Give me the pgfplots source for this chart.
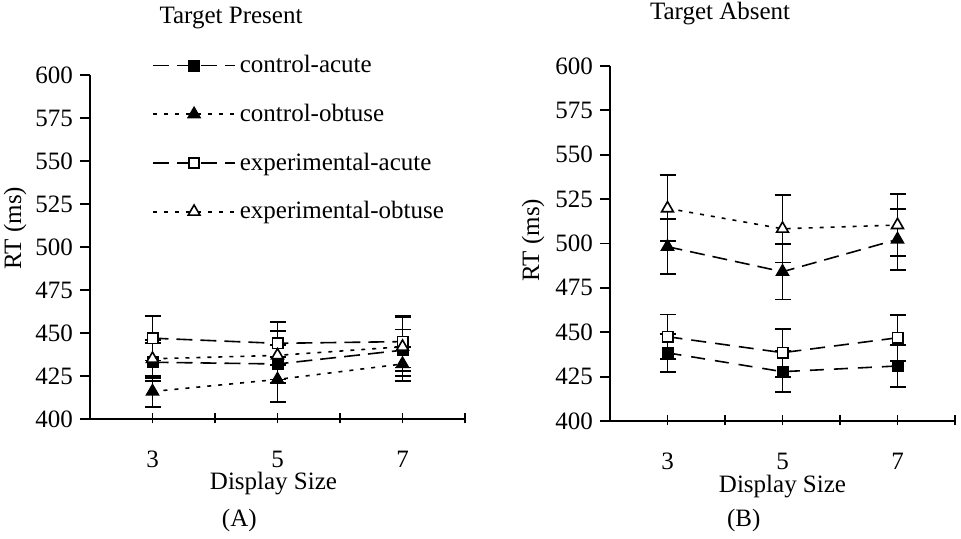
\documentclass[border=0pt]{standalone}
\usepackage{fontspec}
\setmainfont{Liberation Serif}
\usepackage{pgfplots}
\pgfplotsset{compat=1.18}

\pgfplotsset{
  rtaxis/.style={
    scale only axis,
    clip=false,
    axis lines=left,
    axis line style={-, line width=0.9pt},
    xmin=0, xmax=6, ymin=400, ymax=600,
    xtick={1,...,6}, xticklabels={3,,5,,7,},
    ytick={400,425,...,600},
    tick align=outside,
    major tick length=5pt,
    tick style={black, line width=0.9pt},
    x tick style={yshift=2.8pt},
    x tick label style={yshift=-7.5pt},
    font=\fontsize{12.5}{15}\selectfont,
    /pgf/number format/assume math mode=true,
    every axis title shift=0pt,
    ylabel={RT (ms)},
    xlabel={Display Size},
  },
  err/.style={error bars/.cd, y dir=both, y explicit,
    error bar style={solid, line width=0.9pt},
    error mark options={rotate=90, mark size=4pt, line width=0.9pt}},
  sq/.style={black, line width=0.8pt, mark=square*, mark size=2.6pt},
  tri/.style={black, line width=0.8pt, mark=triangle*, mark size=3.4pt},
  longdash/.style={dash pattern=on 8pt off 4pt},
  shortdot/.style={dash pattern=on 2pt off 3.5pt},
  legend image code/.code={
    \draw[mark repeat=2, mark phase=2, #1]
      plot coordinates {(0pt,0pt) (20.5pt,0pt) (41pt,0pt)};},
}

\begin{document}
\begin{tikzpicture}
\useasboundingbox (0,0) rectangle (480.5pt,269pt);

% (A) target present
\begin{axis}[
  rtaxis,
  at={(45pt,59.5pt)}, anchor=south west,
  width=187.5pt, height=172pt,
  title={Target Present},
  title style={at={(axis description cs:0.376,1.166)}, anchor=center},
  xlabel style={at={(axis description cs:0.5,0)}, anchor=center, yshift=-32.5pt, xshift=-2pt},
  ylabel style={at={(axis description cs:0,0.555)}, anchor=center, yshift=37.5pt},
  legend style={draw=none, fill=none, at={(axis description cs:0.165,1.07)},
    anchor=north west, row sep=10.2pt, inner sep=0pt,
    font=\fontsize{12.5}{15}\selectfont},
  legend cell align=left,
]
\addplot[sq, longdash, mark options={solid, fill=black}, err] coordinates {
  (1,433) +- (0,11)
  (3,432) +- (0,11)
  (5,440) +- (0,12)
};
\addlegendentry{control-acute}
\addplot[tri, shortdot, mark options={solid, fill=black}, err] coordinates {
  (1,416) +- (0,9)
  (3,423) +- (0,13)
  (5,432) +- (0,10)
};
\addlegendentry{control-obtuse}
\addplot[sq, longdash, mark options={solid, fill=white}, err] coordinates {
  (1,447) +- (0,13)
  (3,444) +- (0,12.5)
  (5,445) +- (0,15)
};
\addlegendentry{experimental-acute}
\addplot[tri, shortdot, mark options={solid, fill=white}, err] coordinates {
  (1,435) +- (0,11)
  (3,437) +- (0,14)
  (5,442) +- (0,17)
};
\addlegendentry{experimental-obtuse}
\node[anchor=west] at (axis description cs:0.333,-0.294) {(A)};
\end{axis}

% (B) target absent
\begin{axis}[
  rtaxis,
  at={(305pt,58.5pt)}, anchor=south west,
  width=172.5pt, height=177.5pt,
  title={Target Absent},
  title style={at={(axis description cs:0.319,1.149)}, anchor=center},
  xlabel style={at={(axis description cs:0.5,0)}, anchor=center, yshift=-33pt},
  ylabel style={at={(axis description cs:0,0.51)}, anchor=center, yshift=38.5pt},
]
\addplot[sq, dash pattern=on 7pt off 5pt, mark options={solid, fill=black}, err] coordinates {
  (1,438.4) +- (0,10.6)
  (3,427.8) +- (0,11.6)
  (5,431) +- (0,12)
};
\addplot[tri, dash pattern=on 7.5pt off 4pt, mark options={solid, fill=black}, err] coordinates {
  (1,498.2) +- (0,15.5)
  (3,484.1) +- (0,15.6)
  (5,502.3) +- (0,17.3)
};
\addplot[sq, dash pattern=on 7.5pt off 4.5pt, mark options={solid, fill=white}, err] coordinates {
  (1,447.5) +- (0,12.5)
  (3,438.5) +- (0,13.5)
  (5,446.9) +- (0,13)
};
\addplot[tri, shortdot, mark options={solid, fill=white}, err] coordinates {
  (1,519.8) +- (0,18.6)
  (3,508.3) +- (0,19)
  (5,510.4) +- (0,17.3)
};
\node[anchor=west] at (axis description cs:0.319,-0.279) {(B)};
\end{axis}
\end{tikzpicture}
\end{document}
